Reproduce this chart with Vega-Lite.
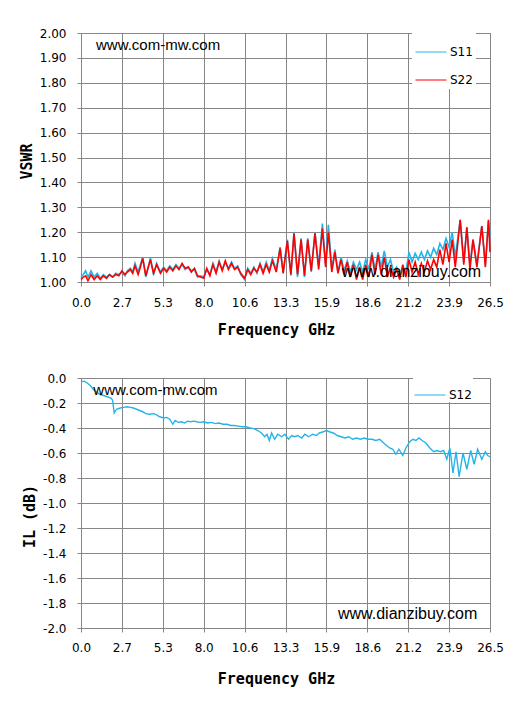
{
  "$schema": "https://vega.github.io/schema/vega-lite/v6.json",
  "background": "white",
  "padding": {"left": 18, "top": 26, "right": 10, "bottom": 5},
  "spacing": 33,
  "resolve": {"scale": {"color": "independent"}, "legend": {"color": "independent"}},
  "config": {
    "view": {"stroke": "#868686", "strokeWidth": 1},
    "axis": {
      "grid": true,
      "gridColor": "#868686",
      "gridOpacity": 1,
      "domainColor": "#868686",
      "tickColor": "#868686",
      "tickSize": 4,
      "labelFont": "DejaVu Sans",
      "labelFontSize": 12,
      "labelColor": "#000000",
      "labelFlush": false,
      "labelOverlap": false,
      "labelPadding": 11,
      "titleFont": "DejaVu Sans Mono",
      "titleFontSize": 15,
      "titleFontWeight": "bold",
      "titleColor": "#000000"
    },
    "axisX": {"titleX": 195},
    "axisY": {"titlePadding": 5},
    "legend": {
      "orient": "none",
      "fillColor": "white",
      "symbolType": "stroke",
      "symbolSize": 961,
      "symbolStrokeWidth": 1,
      "labelFont": "DejaVu Sans",
      "labelFontSize": 12,
      "labelColor": "#000000",
      "labelOffset": 3,
      "rowPadding": 6,
      "title": null
    }
  },
  "vconcat": [
    {
      "width": 409,
      "height": 249,
      "layer": [
        {
          "data": {
            "values": [
              {"f": 0.0, "S11": 1.02, "S22": 1.01},
              {"f": 0.15, "S11": 1.03, "S22": 1.02},
              {"f": 0.3, "S11": 1.045, "S22": 1.025},
              {"f": 0.45, "S11": 1.02, "S22": 1.005},
              {"f": 0.65, "S11": 1.045, "S22": 1.03},
              {"f": 0.85, "S11": 1.02, "S22": 1.01},
              {"f": 1.05, "S11": 1.035, "S22": 1.025},
              {"f": 1.25, "S11": 1.015, "S22": 1.01},
              {"f": 1.45, "S11": 1.03, "S22": 1.025},
              {"f": 1.65, "S11": 1.02, "S22": 1.015},
              {"f": 1.85, "S11": 1.03, "S22": 1.03},
              {"f": 2.05, "S11": 1.02, "S22": 1.02},
              {"f": 2.25, "S11": 1.035, "S22": 1.03},
              {"f": 2.45, "S11": 1.03, "S22": 1.025},
              {"f": 2.65, "S11": 1.04, "S22": 1.045},
              {"f": 2.85, "S11": 1.025, "S22": 1.03},
              {"f": 3.0, "S11": 1.045, "S22": 1.04},
              {"f": 3.2, "S11": 1.055, "S22": 1.05},
              {"f": 3.35, "S11": 1.04, "S22": 1.035},
              {"f": 3.5, "S11": 1.075, "S22": 1.065},
              {"f": 3.7, "S11": 1.04, "S22": 1.03},
              {"f": 3.85, "S11": 1.07, "S22": 1.06},
              {"f": 4.0, "S11": 1.1, "S22": 1.095},
              {"f": 4.2, "S11": 1.02, "S22": 1.025},
              {"f": 4.5, "S11": 1.097, "S22": 1.09},
              {"f": 4.7, "S11": 1.03, "S22": 1.035},
              {"f": 4.9, "S11": 1.075, "S22": 1.07},
              {"f": 5.15, "S11": 1.04, "S22": 1.035},
              {"f": 5.35, "S11": 1.06, "S22": 1.055},
              {"f": 5.55, "S11": 1.045, "S22": 1.04},
              {"f": 5.75, "S11": 1.065, "S22": 1.06},
              {"f": 5.95, "S11": 1.05, "S22": 1.045},
              {"f": 6.15, "S11": 1.07, "S22": 1.065},
              {"f": 6.35, "S11": 1.055, "S22": 1.05},
              {"f": 6.55, "S11": 1.07, "S22": 1.075},
              {"f": 6.75, "S11": 1.05, "S22": 1.055},
              {"f": 6.95, "S11": 1.06, "S22": 1.06},
              {"f": 7.15, "S11": 1.045, "S22": 1.04},
              {"f": 7.35, "S11": 1.05, "S22": 1.055},
              {"f": 7.55, "S11": 1.02, "S22": 1.025},
              {"f": 7.75, "S11": 1.025, "S22": 1.02},
              {"f": 7.95, "S11": 1.02, "S22": 1.015},
              {"f": 8.15, "S11": 1.05, "S22": 1.055},
              {"f": 8.35, "S11": 1.03, "S22": 1.025},
              {"f": 8.55, "S11": 1.075, "S22": 1.07},
              {"f": 8.75, "S11": 1.04, "S22": 1.035},
              {"f": 8.95, "S11": 1.085, "S22": 1.08},
              {"f": 9.15, "S11": 1.05, "S22": 1.045},
              {"f": 9.35, "S11": 1.08, "S22": 1.085},
              {"f": 9.55, "S11": 1.055, "S22": 1.05},
              {"f": 9.75, "S11": 1.08, "S22": 1.075},
              {"f": 9.95, "S11": 1.055, "S22": 1.05},
              {"f": 10.15, "S11": 1.065, "S22": 1.06},
              {"f": 10.35, "S11": 1.03, "S22": 1.035},
              {"f": 10.6, "S11": 1.01, "S22": 1.015},
              {"f": 10.8, "S11": 1.055, "S22": 1.05},
              {"f": 11.0, "S11": 1.035, "S22": 1.03},
              {"f": 11.2, "S11": 1.06, "S22": 1.055},
              {"f": 11.4, "S11": 1.035, "S22": 1.04},
              {"f": 11.6, "S11": 1.075, "S22": 1.07},
              {"f": 11.8, "S11": 1.04, "S22": 1.035},
              {"f": 12.0, "S11": 1.08, "S22": 1.07},
              {"f": 12.2, "S11": 1.045, "S22": 1.04},
              {"f": 12.4, "S11": 1.095, "S22": 1.085},
              {"f": 12.65, "S11": 1.05, "S22": 1.04},
              {"f": 12.9, "S11": 1.14, "S22": 1.135},
              {"f": 13.1, "S11": 1.04, "S22": 1.035},
              {"f": 13.37, "S11": 1.17, "S22": 1.165},
              {"f": 13.6, "S11": 1.025, "S22": 1.03},
              {"f": 13.8, "S11": 1.2, "S22": 1.195},
              {"f": 14.03, "S11": 1.02, "S22": 1.03},
              {"f": 14.26, "S11": 1.175, "S22": 1.17},
              {"f": 14.48, "S11": 1.02, "S22": 1.025},
              {"f": 14.69, "S11": 1.175, "S22": 1.17},
              {"f": 14.92, "S11": 1.04, "S22": 1.045},
              {"f": 15.16, "S11": 1.2, "S22": 1.195},
              {"f": 15.4, "S11": 1.065, "S22": 1.05},
              {"f": 15.64, "S11": 1.235, "S22": 1.215},
              {"f": 15.85, "S11": 1.07, "S22": 1.06},
              {"f": 16.03, "S11": 1.23, "S22": 1.2},
              {"f": 16.25, "S11": 1.05, "S22": 1.04},
              {"f": 16.45, "S11": 1.13, "S22": 1.12},
              {"f": 16.65, "S11": 1.04, "S22": 1.035},
              {"f": 16.85, "S11": 1.1, "S22": 1.09},
              {"f": 17.05, "S11": 1.045, "S22": 1.03},
              {"f": 17.25, "S11": 1.085, "S22": 1.08},
              {"f": 17.45, "S11": 1.04, "S22": 1.02},
              {"f": 17.65, "S11": 1.08, "S22": 1.07},
              {"f": 17.85, "S11": 1.05, "S22": 1.01},
              {"f": 18.05, "S11": 1.08, "S22": 1.06},
              {"f": 18.25, "S11": 1.04, "S22": 1.01},
              {"f": 18.45, "S11": 1.09, "S22": 1.07},
              {"f": 18.65, "S11": 1.05, "S22": 1.02},
              {"f": 18.85, "S11": 1.12, "S22": 1.11},
              {"f": 19.05, "S11": 1.05, "S22": 1.03},
              {"f": 19.25, "S11": 1.12, "S22": 1.11},
              {"f": 19.45, "S11": 1.06, "S22": 1.03},
              {"f": 19.65, "S11": 1.125, "S22": 1.1},
              {"f": 19.85, "S11": 1.06, "S22": 1.02},
              {"f": 20.05, "S11": 1.09, "S22": 1.06},
              {"f": 20.25, "S11": 1.04, "S22": 1.02},
              {"f": 20.45, "S11": 1.06, "S22": 1.05},
              {"f": 20.65, "S11": 1.02, "S22": 1.01},
              {"f": 20.85, "S11": 1.06, "S22": 1.07},
              {"f": 21.05, "S11": 1.04, "S22": 1.02},
              {"f": 21.25, "S11": 1.12, "S22": 1.09},
              {"f": 21.45, "S11": 1.08, "S22": 1.04},
              {"f": 21.65, "S11": 1.115, "S22": 1.08},
              {"f": 21.85, "S11": 1.09, "S22": 1.03},
              {"f": 22.05, "S11": 1.12, "S22": 1.075},
              {"f": 22.25, "S11": 1.09, "S22": 1.04},
              {"f": 22.45, "S11": 1.125, "S22": 1.085},
              {"f": 22.65, "S11": 1.1, "S22": 1.05},
              {"f": 22.85, "S11": 1.135, "S22": 1.09},
              {"f": 23.05, "S11": 1.11, "S22": 1.06},
              {"f": 23.25, "S11": 1.155, "S22": 1.13},
              {"f": 23.45, "S11": 1.13, "S22": 1.07},
              {"f": 23.65, "S11": 1.175, "S22": 1.155},
              {"f": 23.85, "S11": 1.14, "S22": 1.08},
              {"f": 24.05, "S11": 1.2, "S22": 1.17},
              {"f": 24.25, "S11": 1.1, "S22": 1.06},
              {"f": 24.57, "S11": 1.25, "S22": 1.25},
              {"f": 24.8, "S11": 1.08, "S22": 1.07},
              {"f": 25.0, "S11": 1.22, "S22": 1.22},
              {"f": 25.2, "S11": 1.07, "S22": 1.05},
              {"f": 25.4, "S11": 1.17, "S22": 1.17},
              {"f": 25.65, "S11": 1.07, "S22": 1.06},
              {"f": 25.97, "S11": 1.225, "S22": 1.225},
              {"f": 26.2, "S11": 1.07, "S22": 1.06},
              {"f": 26.4, "S11": 1.245, "S22": 1.25},
              {"f": 26.5, "S11": 1.19, "S22": 1.12}
            ]
          },
          "transform": [{"fold": ["S11", "S22"], "as": ["series", "vswr"]}],
          "mark": {"type": "line", "strokeWidth": 1.6},
          "encoding": {
            "x": {
              "field": "f",
              "type": "quantitative",
              "title": "Frequency GHz",
              "scale": {"domain": [0, 26.5], "nice": false, "zero": false},
              "axis": {
                "values": [0, 2.65, 5.3, 7.95, 10.6, 13.25, 15.9, 18.55, 21.2, 23.85, 26.5],
                "labelExpr": "format(datum.value + 0.001, '.1f')",
                "titlePadding": 14
              }
            },
            "y": {
              "field": "vswr",
              "type": "quantitative",
              "title": "VSWR",
              "scale": {"domain": [1, 2], "nice": false, "zero": false},
              "axis": {
                "values": [1, 1.1, 1.2, 1.3, 1.4, 1.5, 1.6, 1.7, 1.8, 1.9, 2],
                "format": ".2f",
                "titleY": 128
              }
            },
            "color": {
              "field": "series",
              "type": "nominal",
              "scale": {"domain": ["S11", "S22"], "range": ["#21B5EA", "#FF0000"]},
              "legend": {"legendX": 331, "legendY": 0, "padding": 3}
            }
          }
        },
        {
          "data": {"values": [{"note": "www.com-mw.com"}]},
          "encoding": {
            "x": {
              "datum": 0.97,
              "type": "quantitative",
              "title": "Frequency GHz",
              "axis": {
                "values": [0, 2.65, 5.3, 7.95, 10.6, 13.25, 15.9, 18.55, 21.2, 23.85, 26.5],
                "labelExpr": "format(datum.value + 0.001, '.1f')",
                "titlePadding": 14
              }
            },
            "y": {
              "datum": 1.932,
              "type": "quantitative",
              "title": "VSWR",
              "axis": {
                "values": [1, 1.1, 1.2, 1.3, 1.4, 1.5, 1.6, 1.7, 1.8, 1.9, 2],
                "format": ".2f",
                "titleY": 128
              }
            },
            "text": {"field": "note"}
          },
          "mark": {"type": "text", "align": "left", "baseline": "alphabetic", "font": "Liberation Sans", "fontSize": 15, "color": "#000000"}
        },
        {
          "data": {"values": [{"note": "www.dianzibuy.com"}]},
          "encoding": {
            "x": {
              "datum": 16.9,
              "type": "quantitative",
              "title": "Frequency GHz",
              "axis": {
                "values": [0, 2.65, 5.3, 7.95, 10.6, 13.25, 15.9, 18.55, 21.2, 23.85, 26.5],
                "labelExpr": "format(datum.value + 0.001, '.1f')",
                "titlePadding": 14
              }
            },
            "y": {
              "datum": 1.022,
              "type": "quantitative",
              "title": "VSWR",
              "axis": {
                "values": [1, 1.1, 1.2, 1.3, 1.4, 1.5, 1.6, 1.7, 1.8, 1.9, 2],
                "format": ".2f",
                "titleY": 128
              }
            },
            "text": {"field": "note"}
          },
          "mark": {"type": "text", "align": "left", "baseline": "alphabetic", "font": "Liberation Sans", "fontSize": 16, "color": "#000000"}
        }
      ]
    },
    {
      "width": 409,
      "height": 250,
      "layer": [
        {
          "data": {
            "values": [
              {"f": 0.0, "S12": -0.03},
              {"f": 0.2, "S12": -0.025},
              {"f": 0.4, "S12": -0.04},
              {"f": 0.6, "S12": -0.06},
              {"f": 0.8, "S12": -0.09},
              {"f": 1.0, "S12": -0.11},
              {"f": 1.2, "S12": -0.13},
              {"f": 1.45, "S12": -0.14},
              {"f": 1.7, "S12": -0.15},
              {"f": 1.95, "S12": -0.16},
              {"f": 2.05, "S12": -0.18},
              {"f": 2.15, "S12": -0.28},
              {"f": 2.3, "S12": -0.25},
              {"f": 2.55, "S12": -0.24},
              {"f": 2.75, "S12": -0.235},
              {"f": 3.0, "S12": -0.23},
              {"f": 3.2, "S12": -0.235},
              {"f": 3.4, "S12": -0.24},
              {"f": 3.6, "S12": -0.25},
              {"f": 3.8, "S12": -0.26},
              {"f": 4.0, "S12": -0.27},
              {"f": 4.2, "S12": -0.285},
              {"f": 4.45, "S12": -0.29},
              {"f": 4.7, "S12": -0.285},
              {"f": 4.9, "S12": -0.295},
              {"f": 5.1, "S12": -0.31},
              {"f": 5.35, "S12": -0.32},
              {"f": 5.55, "S12": -0.315},
              {"f": 5.75, "S12": -0.33},
              {"f": 5.95, "S12": -0.37},
              {"f": 6.1, "S12": -0.34},
              {"f": 6.3, "S12": -0.355},
              {"f": 6.5, "S12": -0.35},
              {"f": 6.7, "S12": -0.36},
              {"f": 6.9, "S12": -0.345},
              {"f": 7.1, "S12": -0.35},
              {"f": 7.3, "S12": -0.345},
              {"f": 7.5, "S12": -0.35},
              {"f": 7.7, "S12": -0.355},
              {"f": 7.95, "S12": -0.35},
              {"f": 8.2, "S12": -0.36},
              {"f": 8.45, "S12": -0.355},
              {"f": 8.7, "S12": -0.365},
              {"f": 8.95, "S12": -0.36},
              {"f": 9.2, "S12": -0.37},
              {"f": 9.45, "S12": -0.37},
              {"f": 9.7, "S12": -0.38},
              {"f": 9.95, "S12": -0.38},
              {"f": 10.2, "S12": -0.385},
              {"f": 10.45, "S12": -0.39},
              {"f": 10.7, "S12": -0.39},
              {"f": 10.95, "S12": -0.4},
              {"f": 11.2, "S12": -0.405},
              {"f": 11.45, "S12": -0.42},
              {"f": 11.7, "S12": -0.44},
              {"f": 11.9, "S12": -0.47},
              {"f": 12.05, "S12": -0.45},
              {"f": 12.2, "S12": -0.5},
              {"f": 12.35, "S12": -0.44},
              {"f": 12.55, "S12": -0.49},
              {"f": 12.75, "S12": -0.45},
              {"f": 13.0, "S12": -0.47},
              {"f": 13.2, "S12": -0.45},
              {"f": 13.45, "S12": -0.49},
              {"f": 13.65, "S12": -0.46},
              {"f": 13.85, "S12": -0.47},
              {"f": 14.05, "S12": -0.46},
              {"f": 14.3, "S12": -0.48},
              {"f": 14.5, "S12": -0.45},
              {"f": 14.75, "S12": -0.47},
              {"f": 15.0, "S12": -0.45},
              {"f": 15.25, "S12": -0.46},
              {"f": 15.45, "S12": -0.44},
              {"f": 15.7, "S12": -0.43},
              {"f": 15.9, "S12": -0.42},
              {"f": 16.1, "S12": -0.43},
              {"f": 16.35, "S12": -0.44},
              {"f": 16.6, "S12": -0.46},
              {"f": 16.85, "S12": -0.47},
              {"f": 17.1, "S12": -0.48},
              {"f": 17.35, "S12": -0.47},
              {"f": 17.6, "S12": -0.49},
              {"f": 17.85, "S12": -0.48},
              {"f": 18.1, "S12": -0.49},
              {"f": 18.35, "S12": -0.48},
              {"f": 18.6, "S12": -0.49},
              {"f": 18.85, "S12": -0.49},
              {"f": 19.1, "S12": -0.5},
              {"f": 19.35, "S12": -0.49},
              {"f": 19.7, "S12": -0.53},
              {"f": 20.0, "S12": -0.56},
              {"f": 20.2, "S12": -0.57},
              {"f": 20.4, "S12": -0.61},
              {"f": 20.6, "S12": -0.57},
              {"f": 20.85, "S12": -0.62},
              {"f": 21.05, "S12": -0.56},
              {"f": 21.3, "S12": -0.51},
              {"f": 21.5, "S12": -0.49},
              {"f": 21.7, "S12": -0.5},
              {"f": 21.9, "S12": -0.48},
              {"f": 22.1, "S12": -0.5},
              {"f": 22.35, "S12": -0.52},
              {"f": 22.6, "S12": -0.56},
              {"f": 22.85, "S12": -0.59},
              {"f": 23.05, "S12": -0.58},
              {"f": 23.3, "S12": -0.59},
              {"f": 23.5, "S12": -0.58},
              {"f": 23.7, "S12": -0.65},
              {"f": 23.9, "S12": -0.56},
              {"f": 24.1, "S12": -0.76},
              {"f": 24.3, "S12": -0.59},
              {"f": 24.5, "S12": -0.79},
              {"f": 24.75, "S12": -0.6},
              {"f": 25.0, "S12": -0.73},
              {"f": 25.25, "S12": -0.58},
              {"f": 25.47, "S12": -0.69},
              {"f": 25.7, "S12": -0.57},
              {"f": 25.97, "S12": -0.65},
              {"f": 26.2, "S12": -0.59},
              {"f": 26.35, "S12": -0.62},
              {"f": 26.5, "S12": -0.63}
            ]
          },
          "transform": [{"fold": ["S12"], "as": ["series", "il"]}],
          "mark": {"type": "line", "strokeWidth": 1.4},
          "encoding": {
            "x": {
              "field": "f",
              "type": "quantitative",
              "title": "Frequency GHz",
              "scale": {"domain": [0, 26.5], "nice": false, "zero": false},
              "axis": {
                "values": [0, 2.65, 5.3, 7.95, 10.6, 13.25, 15.9, 18.55, 21.2, 23.85, 26.5],
                "labelExpr": "format(datum.value + 0.001, '.1f')",
                "labelPadding": 10,
                "titlePadding": 18
              }
            },
            "y": {
              "field": "il",
              "type": "quantitative",
              "title": "IL (dB)",
              "scale": {"domain": [-2, 0], "nice": false, "zero": false},
              "axis": {
                "values": [-2, -1.8, -1.6, -1.4, -1.2, -1, -0.8, -0.6, -0.4, -0.2, 0],
                "labelExpr": "datum.value < -0.001 ? '-' + format(-datum.value, '.1f') : '0.0'",
                "titleY": 138
              }
            },
            "color": {
              "field": "series",
              "type": "nominal",
              "scale": {"domain": ["S12"], "range": ["#21B5EA"]},
              "legend": {"legendX": 332, "legendY": 0, "padding": 1}
            }
          }
        },
        {
          "data": {"values": [{"note": "www.com-mw.com"}]},
          "encoding": {
            "x": {
              "datum": 0.8,
              "type": "quantitative",
              "title": "Frequency GHz",
              "axis": {
                "values": [0, 2.65, 5.3, 7.95, 10.6, 13.25, 15.9, 18.55, 21.2, 23.85, 26.5],
                "labelExpr": "format(datum.value + 0.001, '.1f')",
                "labelPadding": 10,
                "titlePadding": 18
              }
            },
            "y": {
              "datum": -0.134,
              "type": "quantitative",
              "title": "IL (dB)",
              "axis": {
                "values": [-2, -1.8, -1.6, -1.4, -1.2, -1, -0.8, -0.6, -0.4, -0.2, 0],
                "labelExpr": "datum.value < -0.001 ? '-' + format(-datum.value, '.1f') : '0.0'",
                "titleY": 138
              }
            },
            "text": {"field": "note"}
          },
          "mark": {"type": "text", "align": "left", "baseline": "alphabetic", "font": "Liberation Sans", "fontSize": 15, "color": "#000000"}
        },
        {
          "data": {"values": [{"note": "www.dianzibuy.com"}]},
          "encoding": {
            "x": {
              "datum": 16.65,
              "type": "quantitative",
              "title": "Frequency GHz",
              "axis": {
                "values": [0, 2.65, 5.3, 7.95, 10.6, 13.25, 15.9, 18.55, 21.2, 23.85, 26.5],
                "labelExpr": "format(datum.value + 0.001, '.1f')",
                "labelPadding": 10,
                "titlePadding": 18
              }
            },
            "y": {
              "datum": -1.93,
              "type": "quantitative",
              "title": "IL (dB)",
              "axis": {
                "values": [-2, -1.8, -1.6, -1.4, -1.2, -1, -0.8, -0.6, -0.4, -0.2, 0],
                "labelExpr": "datum.value < -0.001 ? '-' + format(-datum.value, '.1f') : '0.0'",
                "titleY": 138
              }
            },
            "text": {"field": "note"}
          },
          "mark": {"type": "text", "align": "left", "baseline": "alphabetic", "font": "Liberation Sans", "fontSize": 16, "color": "#000000"}
        }
      ]
    }
  ]
}
